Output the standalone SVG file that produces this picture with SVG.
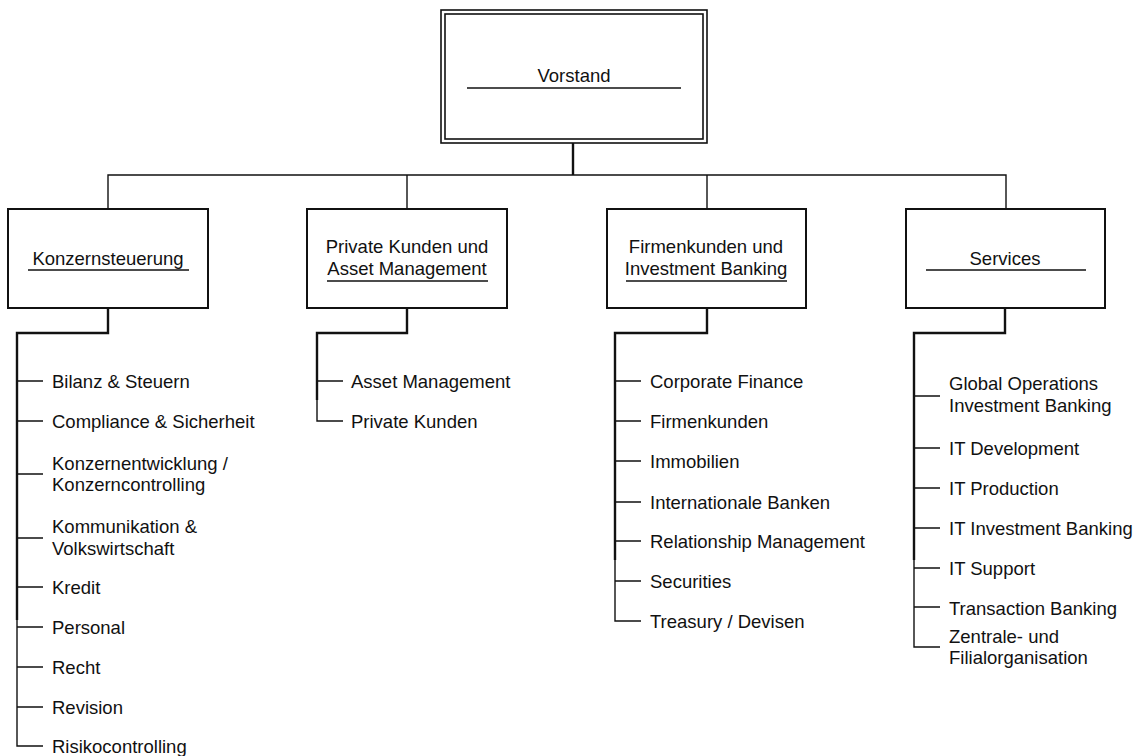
<svg xmlns="http://www.w3.org/2000/svg" width="1142" height="756" viewBox="0 0 1142 756">
<style>
text{font-family:"Liberation Sans",Arial,sans-serif;font-size:18.5px;fill:#111}
.box{fill:#fff;stroke:#111;stroke-width:2}
.ul{stroke:#111;stroke-width:1.6}
.c{fill:none;stroke:#111;stroke-width:1.4}
.s{fill:none;stroke:#111;stroke-width:2.4}
.m{text-anchor:middle}
</style>
<rect width="1142" height="756" fill="#fff"/>
<g id="connectors">
<path class="s" d="M573 143V175"/>
<path class="c" d="M108 209V175H1006V209M407 175V209M707 175V209"/>
<path class="s" d="M108 308V333H17V620"/>
<path class="c" d="M17 620V746H43M17 381H43M17 421H43M17 474H43M17 538H43M17 587H43M17 627H43M17 667H43M17 707H43"/>
<path class="s" d="M407 308V333H317V400"/>
<path class="c" d="M317 400V421H343M317 381H343"/>
<path class="s" d="M707 308V333H615V560"/>
<path class="c" d="M615 560V621H641M615 381H641M615 421H641M615 461H641M615 502H641M615 541H641M615 581H641"/>
<path class="s" d="M1005 308V333H914V560"/>
<path class="c" d="M914 560V647H940M914 396H940M914 448H940M914 488H940M914 528H940M914 568H940M914 607H940"/>
</g>
<g id="vorstand">
<rect x="441" y="10" width="266" height="133" fill="#fff" stroke="#111" stroke-width="1.6"/>
<rect x="445" y="14" width="258" height="125" fill="none" stroke="#111" stroke-width="1.6"/>
<text class="m" x="574" y="82">Vorstand</text>
<line class="ul" x1="467" y1="88" x2="681" y2="88"/>
</g>
<g id="konzernsteuerung">
<rect class="box" x="8" y="209" width="200" height="99"/>
<text class="m" x="108" y="265">Konzernsteuerung</text>
<line class="ul" x1="28" y1="270" x2="189" y2="270"/>
</g>
<g id="private">
<rect class="box" x="307" y="209" width="200" height="99"/>
<text class="m" x="407" y="253">Private Kunden und</text>
<text class="m" x="407" y="275">Asset Management</text>
<line class="ul" x1="327" y1="281" x2="488" y2="281"/>
</g>
<g id="firmenkunden">
<rect class="box" x="607" y="209" width="199" height="99"/>
<text class="m" x="706" y="253">Firmenkunden und</text>
<text class="m" x="706" y="275">Investment Banking</text>
<line class="ul" x1="626" y1="281" x2="787" y2="281"/>
</g>
<g id="services">
<rect class="box" x="906" y="209" width="199" height="99"/>
<text class="m" x="1005" y="265">Services</text>
<line class="ul" x1="926" y1="270" x2="1086" y2="270"/>
</g>
<g id="konzern-items">
<text x="52" y="388">Bilanz &amp; Steuern</text>
<text x="52" y="428">Compliance &amp; Sicherheit</text>
<text x="52" y="470">Konzernentwicklung /</text>
<text x="52" y="491">Konzerncontrolling</text>
<text x="52" y="533">Kommunikation &amp;</text>
<text x="52" y="555">Volkswirtschaft</text>
<text x="52" y="594">Kredit</text>
<text x="52" y="634">Personal</text>
<text x="52" y="674">Recht</text>
<text x="52" y="714">Revision</text>
<text x="52" y="753">Risikocontrolling</text>
</g>
<g id="private-items">
<text x="351" y="388">Asset Management</text>
<text x="351" y="428">Private Kunden</text>
</g>
<g id="firmen-items">
<text x="650" y="388">Corporate Finance</text>
<text x="650" y="428">Firmenkunden</text>
<text x="650" y="468">Immobilien</text>
<text x="650" y="509">Internationale Banken</text>
<text x="650" y="548">Relationship Management</text>
<text x="650" y="588">Securities</text>
<text x="650" y="628">Treasury / Devisen</text>
</g>
<g id="services-items">
<text x="949" y="390">Global Operations</text>
<text x="949" y="412">Investment Banking</text>
<text x="949" y="455">IT Development</text>
<text x="949" y="495">IT Production</text>
<text x="949" y="535">IT Investment Banking</text>
<text x="949" y="575">IT Support</text>
<text x="949" y="615">Transaction Banking</text>
<text x="949" y="643">Zentrale- und</text>
<text x="949" y="664">Filialorganisation</text>
</g>
</svg>
